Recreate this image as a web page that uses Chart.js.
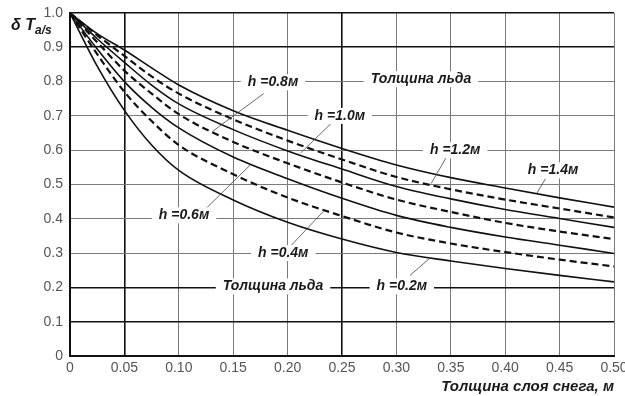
<!DOCTYPE html>
<html>
<head>
<meta charset="utf-8">
<script src="https://cdn.jsdelivr.net/npm/chart.js@4.4.1/dist/chart.umd.min.js"></script>
<style>
    html, body { margin: 0; padding: 0; background: #fff; }
    #wrap { width: 625px; height: 396px; position: relative; }
</style>
</head>
<body>
<div id="wrap"><canvas id="iceChart"></canvas></div>
<script>
// snow thickness, m
const snowDepth = [0, 0.025, 0.05, 0.075, 0.1, 0.15, 0.2, 0.25, 0.3, 0.35, 0.4, 0.45, 0.5];

// relative temperature drop for each ice thickness h
const h14 = [1.0, 0.94, 0.892, 0.84, 0.79, 0.715, 0.658, 0.605, 0.557, 0.52, 0.49, 0.461, 0.434];
const h12 = [1.0, 0.935, 0.875, 0.815, 0.765, 0.69, 0.628, 0.573, 0.522, 0.486, 0.456, 0.43, 0.404];
const h10 = [1.0, 0.925, 0.856, 0.79, 0.735, 0.66, 0.598, 0.545, 0.494, 0.458, 0.427, 0.401, 0.375];
const h08 = [1.0, 0.915, 0.832, 0.765, 0.705, 0.624, 0.562, 0.506, 0.456, 0.42, 0.388, 0.363, 0.341];
const h06 = [1.0, 0.895, 0.80, 0.725, 0.665, 0.58, 0.517, 0.46, 0.41, 0.375, 0.347, 0.323, 0.299];
const h04 = [1.0, 0.88, 0.77, 0.685, 0.615, 0.53, 0.462, 0.408, 0.36, 0.328, 0.303, 0.281, 0.261];
const h02 = [1.0, 0.845, 0.716, 0.615, 0.541, 0.455, 0.39, 0.341, 0.302, 0.277, 0.255, 0.235, 0.216];

const xTicks = [0, 0.05, 0.10, 0.15, 0.20, 0.25, 0.30, 0.35, 0.40, 0.45, 0.50];
const yTicks = [0, 0.1, 0.2, 0.3, 0.4, 0.5, 0.6, 0.7, 0.8, 0.9, 1.0];

// callouts: text, label position, leader line from -> to (data units)
const callouts = [
    { text: 'h =0.8м', x: 0.1866, y: 0.798, from: [0.178, 0.765], to: [0.131, 0.655] },
    { text: 'h =1.0м', x: 0.248, y: 0.70, from: [0.240, 0.678], to: [0.212, 0.592] },
    { text: 'Толщина льда', x: 0.3226, y: 0.807 },
    { text: 'h =1.2м', x: 0.354, y: 0.60, from: [0.346, 0.58], to: [0.332, 0.503] },
    { text: 'h =1.4м', x: 0.444, y: 0.541, from: [0.437, 0.517], to: [0.429, 0.474] },
    { text: 'h =0.6м', x: 0.1048, y: 0.41, from: [0.125, 0.43], to: [0.166, 0.558] },
    { text: 'h =0.4м', x: 0.196, y: 0.30, from: [0.202, 0.318], to: [0.233, 0.422] },
    { text: 'Толщина льда', x: 0.1866, y: 0.203 },
    { text: 'h =0.2м', x: 0.305, y: 0.203, from: [0.3125, 0.235], to: [0.331, 0.286] },
];

const darkX = [0.05, 0.25];
const darkY = [0.1, 0.2, 0.9, 1.0];

function series(values, dashed) {
    return {
        data: snowDepth.map((s, i) => ({ x: s, y: values[i] })),
        borderColor: '#111',
        borderWidth: dashed ? 2.2 : 1.6,
        borderDash: dashed ? [7, 4] : [],
        pointRadius: 0,
        cubicInterpolationMode: 'monotone',
        fill: false,
    };
}

function near(list, v) {
    return list.some(t => Math.abs(t - v) < 1e-6);
}

const calloutPlugin = {
    id: 'callouts',
    afterDatasetsDraw(chart) {
        const ctx = chart.ctx;
        const xs = chart.scales.x;
        const ys = chart.scales.y;
        ctx.save();
        ctx.font = 'italic bold 14px "Liberation Sans", Arial, sans-serif';
        ctx.textAlign = 'center';
        ctx.textBaseline = 'middle';
        callouts.forEach(c => {
            if (c.from) {
                ctx.strokeStyle = '#444';
                ctx.lineWidth = 0.8;
                ctx.beginPath();
                ctx.moveTo(xs.getPixelForValue(c.from[0]), ys.getPixelForValue(c.from[1]));
                ctx.lineTo(xs.getPixelForValue(c.to[0]), ys.getPixelForValue(c.to[1]));
                ctx.stroke();
            }
        });
        callouts.forEach(c => {
            const px = xs.getPixelForValue(c.x);
            const py = ys.getPixelForValue(c.y);
            const w = ctx.measureText(c.text).width;
            ctx.fillStyle = '#fff';
            ctx.fillRect(px - w / 2 - 7, py - 8, w + 14, 16);
            ctx.fillStyle = '#1a1a1a';
            ctx.fillText(c.text, px, py);
        });

        // y axis label: δ T with subscript a/s
        ctx.textAlign = 'left';
        ctx.textBaseline = 'alphabetic';
        ctx.font = 'italic bold 16px "Liberation Sans", Arial, sans-serif';
        ctx.fillStyle = '#1a1a1a';
        ctx.fillText('δ T', 11, 30);
        const tw = ctx.measureText('δ T').width;
        ctx.font = 'italic bold 12px "Liberation Sans", Arial, sans-serif';
        ctx.fillText('a/s', 11 + tw, 34);
        ctx.restore();
    },
};

function chartInit() {
    const ctx = document.getElementById('iceChart').getContext('2d');
    return new Chart(ctx, {
        type: 'line',
        data: {
            datasets: [
                series(h14, false),
                series(h12, true),
                series(h10, false),
                series(h08, true),
                series(h06, false),
                series(h04, true),
                series(h02, false),
            ],
        },
        options: {
            responsive: false,
            animation: false,
            layout: { padding: { left: 0, right: 11, top: 13, bottom: 0 } },
            plugins: {
                legend: { display: false },
                tooltip: { enabled: false },
            },
            scales: {
                x: {
                    type: 'linear',
                    min: 0,
                    max: 0.5,
                    afterBuildTicks: scale => { scale.ticks = xTicks.map(v => ({ value: v })); },
                    afterFit: scale => {
                        scale.height = 40;
                        scale.paddingLeft = 0;
                        scale.paddingRight = 0;
                    },
                    ticks: {
                        color: '#555',
                        font: { family: '"Liberation Sans", Arial, sans-serif', size: 14 },
                        padding: 4,
                        maxRotation: 0,
                        callback: v => (v === 0 ? '0' : v.toFixed(2)),
                    },
                    grid: {
                        drawTicks: false,
                        color: c => (near(darkX, c.tick.value) ? '#111' : '#7a7a7a'),
                        lineWidth: c => (near(darkX, c.tick.value) ? 1.6 : 1),
                    },
                    border: { color: '#111', width: 2 },
                    title: {
                        display: true,
                        text: 'Толщина слоя снега, м',
                        align: 'end',
                        color: '#1a1a1a',
                        font: { family: '"Liberation Sans", Arial, sans-serif', size: 15, style: 'italic', weight: 'bold' },
                        padding: { top: 0, bottom: 0 },
                    },
                },
                y: {
                    min: 0,
                    max: 1.0,
                    afterBuildTicks: scale => { scale.ticks = yTicks.map(v => ({ value: v })); },
                    afterFit: scale => {
                        scale.width = 70;
                        scale.paddingTop = 0;
                        scale.paddingBottom = 0;
                    },
                    ticks: {
                        color: '#555',
                        font: { family: '"Liberation Sans", Arial, sans-serif', size: 14 },
                        padding: 7,
                        callback: v => (v === 0 ? '0' : v.toFixed(1)),
                    },
                    grid: {
                        drawTicks: false,
                        color: c => (near(darkY, c.tick.value) ? '#111' : '#7a7a7a'),
                        lineWidth: c => (near(darkY, c.tick.value) ? 1.6 : 1),
                    },
                    border: { color: '#111', width: 2 },
                },
            },
        },
        plugins: [calloutPlugin],
    });
}

const canvas = document.getElementById('iceChart');
canvas.width = 625;
canvas.height = 396;
chartInit();
</script>
</body>
</html>
